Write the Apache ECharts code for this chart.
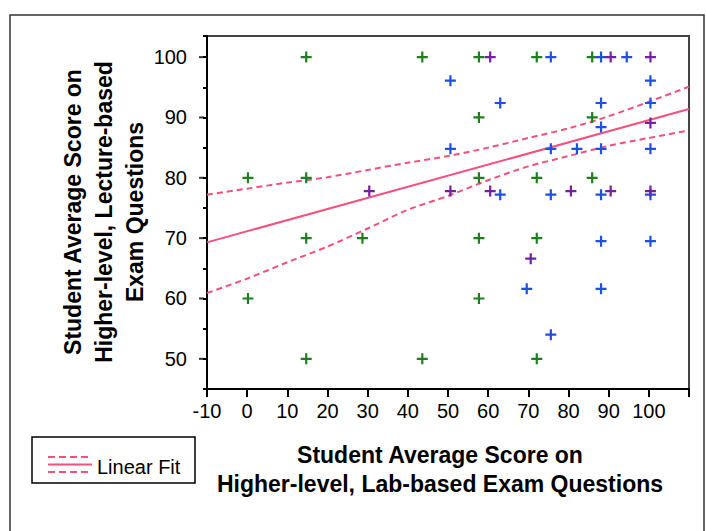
<!DOCTYPE html>
<html>
<head>
<meta charset="utf-8">
<script src="https://cdn.jsdelivr.net/npm/echarts@6/dist/echarts.min.js"></script>
<style>
html,body{margin:0;padding:0;background:#fff;}
#chart{width:706px;height:531px;}
</style>
</head>
<body>
<div id="chart"></div>
<script>
// ---- data ----
const xTickLabels = [-10, 0, 10, 20, 30, 40, 50, 60, 70, 80, 90, 100];
const yTickLabels = [50, 60, 70, 80, 90, 100];

const greenX = [14.7, 43.6, 57.7, 72.1, 85.9, 57.7, 85.9, 0.2, 14.7, 57.7, 72.1, 85.9, 14.7, 28.7, 57.7, 72.1, 0.2, 57.7, 14.7, 43.6, 72.1];
const greenY = [100, 100, 100, 100, 100, 90, 90, 80, 80, 80, 80, 80, 70, 70, 70, 70, 60, 60, 50, 50, 50];

const blueX = [75.6, 88.1, 94.5, 50.6, 100.4, 63.0, 88.1, 100.4, 88.1, 50.6, 75.6, 82.1, 88.1, 100.4, 63.0, 75.6, 88.1, 100.4, 88.1, 100.4, 69.6, 88.1, 75.6];
const blueY = [100, 100, 100, 96.1, 96.1, 92.4, 92.4, 92.4, 88.4, 84.8, 84.8, 84.8, 84.8, 84.8, 77.2, 77.2, 77.2, 77.2, 69.5, 69.5, 61.6, 61.6, 54.0];

const purpleX = [60.5, 90.5, 100.4, 100.4, 30.4, 50.6, 60.5, 80.6, 90.5, 100.4, 70.6];
const purpleY = [100, 100, 100, 89.1, 77.8, 77.8, 77.8, 77.8, 77.8, 77.8, 66.6];

const fitX = [-10, 110];
const fitY = [69.3, 91.4];

const ciX     = [-10,  0,    10,   20,   30,   40,   50,   60,   70,   80,   90,   100,  110];
const ciUpper = [77.2, 78.2, 79.2, 80.1, 81.3, 82.5, 83.6, 85.0, 86.6, 88.2, 90.2, 92.6, 95.1];
const ciLower = [60.9, 63.3, 66.0, 68.6, 71.6, 74.7, 77.0, 79.6, 81.9, 83.6, 85.3, 86.6, 87.85];

// ---- styling ----
const FONT = "'Liberation Sans', Arial, sans-serif";
const PINK = '#f4507c';
const PLUS = 'path://M4,0H6V4H10V6H6V10H4V6H0V4H4Z';

function pairs(xs, ys) { return xs.map((x, i) => [x, ys[i]]); }

function scatter(name, xs, ys, color) {
  return {
    name: name, type: 'scatter', data: pairs(xs, ys),
    symbol: PLUS, symbolSize: 11,
    itemStyle: { color: color, opacity: 1 },
    z: 3
  };
}

const chart = echarts.init(document.getElementById('chart'), null, { renderer: 'svg' });

const option = {
  animation: false,
  backgroundColor: '#fff',
  grid: { left: 207, right: 17, top: 36, bottom: 142, show: true, borderColor: '#444', borderWidth: 2, backgroundColor: 'transparent' },
  xAxis: {
    type: 'value', min: -10, max: 110, interval: 10,
    axisLine: { onZero: false, lineStyle: { color: '#000', width: 2 } },
    axisTick: { show: true, length: 8, lineStyle: { color: '#000', width: 2 } },
    axisLabel: {
      show: true, showMinLabel: true, showMaxLabel: true,
      color: '#000', fontSize: 20, fontFamily: FONT, margin: 12,
      formatter: v => (xTickLabels.indexOf(v) >= 0 ? String(v) : '')
    },
    splitLine: { show: false }
  },
  yAxis: {
    type: 'value', min: 45, max: 103.5, interval: 5,
    axisLine: { show: true, onZero: false, lineStyle: { color: '#000', width: 2 } },
    axisTick: { show: true, length: 4, lineStyle: { color: '#000', width: 2 } },
    axisLabel: {
      show: true, color: '#000', fontSize: 20, fontFamily: FONT, margin: 20,
      formatter: v => (yTickLabels.indexOf(v) >= 0 ? String(v) : '')
    },
    splitLine: { show: false }
  },
  graphic: [
    { type: 'rect', shape: { x: 10, y: 15, width: 694, height: 530 }, style: { fill: 'none', stroke: '#333', lineWidth: 1.5 }, silent: true },
    { type: 'rect', shape: { x: 32, y: 437, width: 163, height: 46 }, style: { fill: '#fff', stroke: '#000', lineWidth: 1.5 }, silent: true },
    { type: 'line', shape: { x1: 48, y1: 457, x2: 92, y2: 457 }, style: { stroke: PINK, lineWidth: 2, lineDash: [7, 4] }, silent: true },
    { type: 'line', shape: { x1: 48, y1: 464.5, x2: 92, y2: 464.5 }, style: { stroke: PINK, lineWidth: 2 }, silent: true },
    { type: 'line', shape: { x1: 48, y1: 472, x2: 92, y2: 472 }, style: { stroke: PINK, lineWidth: 2, lineDash: [7, 4] }, silent: true },
    { type: 'text', x: 97, y: 467, style: { text: 'Linear Fit', font: '20px ' + FONT, fill: '#000', textVerticalAlign: 'middle', textAlign: 'left' }, silent: true },
    { type: 'text', x: 440, y: 469.5, style: { text: 'Student Average Score on\nHigher-level, Lab-based Exam Questions', font: 'bold 23px ' + FONT, fill: '#000', textAlign: 'center', textVerticalAlign: 'middle', lineHeight: 29 }, silent: true },
    { type: 'text', x: 104, y: 212, rotation: Math.PI / 2, style: { text: 'Student Average Score on\nHigher-level, Lecture-based\nExam Questions', font: 'bold 23px ' + FONT, fill: '#000', textAlign: 'center', textVerticalAlign: 'middle', lineHeight: 31 }, silent: true }
  ],
  series: [
    {
      name: 'yMajorTicks', type: 'scatter', silent: true, clip: false,
      data: yTickLabels.map(v => [-10, v]),
      symbol: 'rect', symbolSize: [5, 2], symbolOffset: [-5.5, 0],
      itemStyle: { color: '#000' }, z: 1
    },
    {
      name: 'Linear Fit', type: 'line', data: pairs(fitX, fitY), showSymbol: false, symbol: 'none',
      lineStyle: { color: PINK, width: 2 }, z: 2
    },
    {
      name: 'Upper', type: 'line', data: pairs(ciX, ciUpper), showSymbol: false, symbol: 'none', smooth: 0.3,
      lineStyle: { color: PINK, width: 2, type: [6, 4] }, z: 2
    },
    {
      name: 'Lower', type: 'line', data: pairs(ciX, ciLower), showSymbol: false, symbol: 'none', smooth: 0.3,
      lineStyle: { color: PINK, width: 2, type: [6, 4] }, z: 2
    },
    scatter('Green', greenX, greenY, '#1f7f1f'),
    scatter('Blue', blueX, blueY, '#1f50e0'),
    scatter('Purple', purpleX, purpleY, '#7420a0')
  ]
};

chart.setOption(option);
</script>
</body>
</html>
